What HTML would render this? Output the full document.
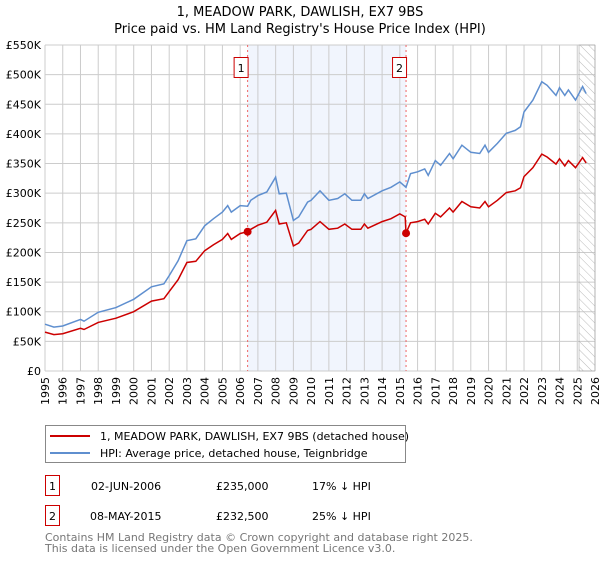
<!DOCTYPE html>
<html><head><meta charset="utf-8"><style>
body{margin:0;background:#fff;font-family:"Liberation Sans","DejaVu Sans",sans-serif}
</style></head><body>
<svg width="600" height="560" xmlns="http://www.w3.org/2000/svg" font-family="DejaVu Sans, Liberation Sans, sans-serif">
<defs><pattern id="hatch" width="6" height="6" patternUnits="userSpaceOnUse" patternTransform="rotate(-45)"><line x1="0" y1="0" x2="0" y2="6" stroke="#bbb" stroke-width="1"/></pattern></defs>
<text x="300" y="16" text-anchor="middle" font-size="13">1, MEADOW PARK, DAWLISH, EX7 9BS</text>
<text x="300" y="33" text-anchor="middle" font-size="13">Price paid vs. HM Land Registry's House Price Index (HPI)</text>
<g id="plot"></g>
<g>
<rect x="45.5" y="425.5" width="360" height="37" fill="#fff" stroke="#888"/>
<line x1="50" y1="436" x2="90" y2="436" stroke="#cc0000" stroke-width="2"/>
<text x="100" y="440" font-size="11">1, MEADOW PARK, DAWLISH, EX7 9BS (detached house)</text>
<line x1="50" y1="453" x2="90" y2="453" stroke="#5f8fcf" stroke-width="2"/>
<text x="100" y="457" font-size="11">HPI: Average price, detached house, Teignbridge</text>
</g>
<g font-size="11">
<rect x="45.5" y="475.5" width="14" height="20" fill="#fff" stroke="#cc0000"/>
<text x="52.5" y="490" text-anchor="middle">1</text>
<text x="91" y="490">02-JUN-2006</text>
<text x="216" y="490">£235,000</text>
<text x="312" y="490">17% ↓ HPI</text>
<rect x="45.5" y="505.5" width="14" height="20" fill="#fff" stroke="#cc0000"/>
<text x="52.5" y="520" text-anchor="middle">2</text>
<text x="90" y="520">08-MAY-2015</text>
<text x="216" y="520">£232,500</text>
<text x="312" y="520">25% ↓ HPI</text>
</g>
<text x="45" y="541" font-size="11" fill="#777">Contains HM Land Registry data © Crown copyright and database right 2025.</text>
<text x="45" y="552" font-size="11" fill="#777">This data is licensed under the Open Government Licence v3.0.</text>
</svg>
<script>
const hpiYears=[1995,1995.5,1996,1997,1997.2,1998,1999,2000,2001,2001.7,2002,2002.5,2003,2003.5,2004,2004.5,2005,2005.3,2005.5,2006,2006.42,2006.6,2007,2007.5,2008,2008.2,2008.6,2009,2009.3,2009.8,2010,2010.5,2011,2011.5,2011.9,2012.3,2012.8,2013,2013.2,2014,2014.5,2015,2015.35,2015.6,2016,2016.4,2016.6,2017,2017.3,2017.8,2018,2018.5,2019,2019.5,2019.8,2020,2020.5,2021,2021.5,2021.8,2022,2022.5,2023,2023.3,2023.8,2024,2024.3,2024.5,2024.9,2025.3,2025.5];
const hpiValues=[79,74,76,87,84,99,107,121,142,147,161,186,220,223,245,257,268,279,268,279,278,288,296,302,327,299,300,254,260,285,288,304,288,291,299,288,288,299,291,304,310,319,310,333,336,341,330,355,347,367,358,381,369,367,381,369,384,401,406,412,437,457,488,482,465,478,465,474,457,480,468];
const priceYears=[1995,1995.5,1996,1997,1997.2,1998,1999,2000,2001,2001.7,2002,2002.5,2003,2003.5,2004,2004.5,2005,2005.3,2005.5,2006,2006.42,2006.6,2007,2007.5,2008,2008.2,2008.6,2009,2009.3,2009.8,2010,2010.5,2011,2011.5,2011.9,2012.3,2012.8,2013,2013.2,2014,2014.5,2015,2015.3,2015.35,2015.6,2016,2016.4,2016.6,2017,2017.3,2017.8,2018,2018.5,2019,2019.5,2019.8,2020,2020.5,2021,2021.5,2021.8,2022,2022.5,2023,2023.3,2023.8,2024,2024.3,2024.5,2024.9,2025.3,2025.5];
const priceValues=[65.6,61.4,63,72,70,82,89,100,118,122,134,154,183,185,203,213,222,232,222,232,235,239,246,251,271,248,250,211,216,237,239,252,239,241,248,239,239,248,241,252,257,265,260,232.5,250,252,256,248,266,260,275,268,286,277,275,286,277,288,301,304,309,328,343,366,361,349,358,346,355,343,360,351];
const saleYears=[2006.42,2015.35];
const saleValues=[235,232.5];
const saleLabels=["1","2"];
const yTicks=[0,50,100,150,200,250,300,350,400,450,500,550];
const xTicks=[1995,1996,1997,1998,1999,2000,2001,2002,2003,2004,2005,2006,2007,2008,2009,2010,2011,2012,2013,2014,2015,2016,2017,2018,2019,2020,2021,2022,2023,2024,2025,2026];
const dataEnd=2025.1;
const X0=45,X1=595,Y0=371,Y1=45;
const xs=y=>X0+(y-1995)/(2026-1995)*(X1-X0);
const ys=v=>Y0-v/550*(Y0-Y1);
const NS="http://www.w3.org/2000/svg";
const g=document.getElementById('plot');
function mk(t,a,p){const e=document.createElementNS(NS,t);for(const k in a)e.setAttribute(k,a[k]);(p||g).appendChild(e);return e;}
const band=mk('rect',{x:xs(saleYears[0]),y:Y1,width:xs(saleYears[1])-xs(saleYears[0]),height:Y0-Y1,fill:'#eef3fc',opacity:0.8});


xTicks.forEach(t=>{const l=mk('line',{x1:xs(t),x2:xs(t),y1:Y1,y2:Y0,stroke:'#ccc'});


const tx=mk('text',{x:0,y:0,'font-size':11,'text-anchor':'end',transform:`translate(${xs(t)+4},${Y0+6}) rotate(-90)`});tx.textContent=t;

});
yTicks.forEach(t=>{const l=mk('line',{x1:X0,x2:X1,y1:ys(t),y2:ys(t),stroke:'#ccc'});


const tx=mk('text',{x:X0-4,y:ys(t)+4,'font-size':11,'text-anchor':'end'});tx.textContent='£'+(t===0?'0':t+'K');

});
const h=mk('rect',{x:xs(dataEnd),y:Y1,width:X1-xs(dataEnd),height:Y0-Y1,fill:'url(#hatch)',stroke:'#999','stroke-width':0.5});


saleYears.forEach((s,i)=>{const l=mk('line',{x1:xs(s),x2:xs(s),y1:Y1,y2:Y0,stroke:'#e66','stroke-dasharray':'2,3'});


const b=mk('rect',{x:xs(s)-13.5,y:57.5,width:14,height:20,fill:'#fff',stroke:'#cc0000'});


const t=mk('text',{x:xs(s)-6.5,y:72,'font-size':11,'text-anchor':'middle'});t.textContent=saleLabels[i];

});
const pth=(xa,va)=>xa.map((y,i)=>(i?'L':'M')+xs(y).toFixed(1)+','+ys(va[i]).toFixed(1)).join('');
const hl=mk('path',{d:pth(hpiYears,hpiValues),fill:'none',stroke:'#5f8fcf','stroke-width':1.5});


const pl=mk('path',{d:pth(priceYears,priceValues),fill:'none',stroke:'#cc0000','stroke-width':1.5});


saleYears.forEach((s,i)=>{const c=mk('circle',{cx:xs(s),cy:ys(saleValues[i]),r:4,fill:'#cc0000'});

});
</script>
</body></html>
